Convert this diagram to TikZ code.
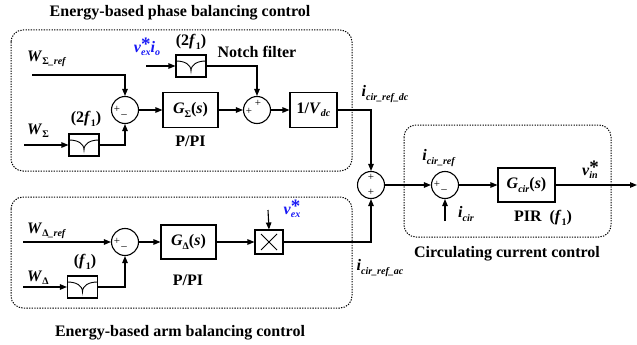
\documentclass[tikz,border=0pt]{standalone}
\usepackage{fontspec}
\setmainfont{Liberation Serif}
\usetikzlibrary{arrows.meta,calc}
\definecolor{vblue}{RGB}{25,25,245}
\newcommand{\ssub}[1]{\raisebox{-0.45ex}{\fontsize{10}{10}\selectfont #1}}
\newcommand{\supsub}[2]{\makebox[0pt][l]{\raisebox{0.25ex}{\fontsize{19}{19}\selectfont #1}}\raisebox{-0.45ex}{\fontsize{10}{10}\selectfont #2}}
\newcommand{\fsz}{\fontsize{16}{18}\selectfont}
\begin{document}
\begin{tikzpicture}[x=1pt,y=-1pt,
  every node/.style={font=\fsz\bfseries, inner sep=0pt},
  blk/.style={draw, line width=1.1pt},
  sumc/.style={draw, circle, line width=1.1pt, minimum size=27pt, inner sep=0pt},
  sgn/.style={font=\fontsize{11}{11}\selectfont\mdseries},
  arr/.style={-{Triangle[length=7pt,width=5.5pt]}, line width=1.1pt},
  grp/.style={line width=1pt, dash pattern=on 1.3pt off 1.3pt, rounded corners=12pt},
  notch/.style={draw, line width=1.1pt, minimum width=30pt, minimum height=22pt,
    path picture={\draw[line width=0.9pt]
      ($(path picture bounding box.center)+(-15pt,5pt)$) .. controls +(8pt,0pt) and +(0pt,7pt) ..
      ($(path picture bounding box.center)+(0pt,-5pt)$) .. controls +(0pt,7pt) and +(-8pt,0pt) ..
      ($(path picture bounding box.center)+(15pt,5pt)$);}},
  mult/.style={draw, line width=1.1pt, minimum width=28pt, minimum height=24pt,
    path picture={\draw[line width=1pt]
      ($(path picture bounding box.center)+(-8pt,-8pt)$) -- ($(path picture bounding box.center)+(8pt,8pt)$)
      ($(path picture bounding box.center)+(-8pt,8pt)$) -- ($(path picture bounding box.center)+(8pt,-8pt)$);}}
]
\useasboundingbox (0,0) rectangle (637,345);

% group frames
\draw[grp] (11,30) rectangle (352,171);
\draw[grp] (11,197) rectangle (352,308);
\draw[grp] (404,125) rectangle (611,237);

% titles
\node (t1) at (180,13) {Energy-based phase balancing control};
\node (t2) at (180,333) {Energy-based arm balancing control};
\node (t3) at (507,254) {Circulating current control};

% top row
\node[sumc] (s1) at (125,110) {};
\node[sgn] (s1a) at ([shift={(-8pt,1pt)}]s1.center) {+};
\node[sgn] (s1b) at ([shift={(-1pt,-6pt)}]s1.center) {–};
\node[blk, minimum width=55pt, minimum height=35pt] (gs) at (190.5,110) {\textit{G}\ssub{Σ}(\textit{s})};
\node (pp1) at (190.5,141) {P/PI};
\node[sumc] (s2) at (257,110) {};
\node[sgn] (s2a) at ([shift={(-8pt,-1pt)}]s2.center) {+};
\node[sgn] (s2b) at ([shift={(1pt,7pt)}]s2.center) {+};
\node[blk, minimum width=47pt, minimum height=35pt] (vdc) at (313.5,110) {1/\textit{V}\ssub{\textit{dc}}};
\node[notch] (n1) at (84,145) {};
\node (n1l) at (86,119) {(2\textit{f}\ssub{1})};
\node[notch] (n2) at (191,66) {};
\node (n2l) at (191,42) {(2\textit{f}\ssub{1})};
\node (nf) at (257,52) {Notch filter};
\node[anchor=west] (wsr) at (27,59) {\textit{W}\ssub{Σ\textit{\_ref}}};
\node[anchor=west] (ws) at (27,131) {\textit{W}\ssub{Σ}};
\node[text=vblue] (vio) at (147,47) {\textit{v}\supsub{*}{\textit{ex}}\textit{i}\ssub{\textit{o}}};
\coordinate (wsr0) at (32,75);
\coordinate (ws0) at (24,145);
\coordinate (vio0) at (146,66);

% bottom row
\node[sumc] (s4) at (125,242) {};
\node[sgn] (s4a) at ([shift={(-8pt,1pt)}]s4.center) {+};
\node[sgn] (s4b) at ([shift={(-1pt,-6pt)}]s4.center) {–};
\node[blk, minimum width=55pt, minimum height=34pt] (gd) at (188.5,242) {\textit{G}\ssub{Δ}(\textit{s})};
\node (pp2) at (188,280) {P/PI};
\node[mult] (mx) at (269,242) {};
\node[text=vblue] (vex) at (292,209) {\textit{v}\supsub{*}{\textit{ex}}};
\coordinate (vex0) at (268,210);
\node[notch] (n3) at (82.5,287) {};
\node (n3l) at (85,262) {(\textit{f}\ssub{1})};
\node[anchor=west] (wdr) at (27,231) {\textit{W}\ssub{Δ\textit{\_ref}}};
\node[anchor=west] (wd) at (27,278) {\textit{W}\ssub{Δ}};
\coordinate (wdr0) at (23,242);
\coordinate (wd0) at (23,287);

% right part
\node[sumc] (s3) at (371,185) {};
\node[sgn] (s3a) at ([shift={(0pt,8pt)}]s3.center) {+};
\node[sgn] (s3b) at ([shift={(0pt,-7pt)}]s3.center) {+};
\node[sumc] (s5) at (445,185) {};
\node[sgn] (s5a) at ([shift={(-8pt,1pt)}]s5.center) {+};
\node[sgn] (s5b) at ([shift={(-1pt,-6pt)}]s5.center) {–};
\node[blk, minimum width=57pt, minimum height=34pt] (gc) at (526.5,185) {\textit{G}\ssub{\textit{cir}}(\textit{s})};
\node (pir) at (543,218) {PIR\ \ (\textit{f}\ssub{1})};
\node (vin) at (590,170) {\textit{v}\supsub{*}{\textit{in}}};
\coordinate (out) at (637,185);
\node (icr) at (439,158) {\textit{i}\ssub{\textit{cir\_ref}}};
\node (ic) at (466,214) {\textit{i}\ssub{\textit{cir}}};
\coordinate (ic0) at (445,221);
\node (irdc) at (385,94) {\textit{i}\ssub{\textit{cir\_ref\_dc}}};
\node (irac) at (380,268) {\textit{i}\ssub{\textit{cir\_ref\_ac}}};

% connectors
\draw[arr] (wsr0) -| (s1.north);
\draw[arr] (ws0) -- (n1.west);
\draw[arr] (n1.east) -| (s1.south);
\draw[arr] (s1) -- (gs);
\draw[arr] (gs) -- (s2);
\draw[arr] (vio0) -- (n2.west);
\draw[arr] (n2.east) -| (s2.north);
\draw[arr] (s2) -- (vdc);
\draw[arr] (vdc.east) -| (s3.north);
\draw[arr] (mx.east) -| (s3.south);
\draw[arr] (s3) -- (s5);
\draw[arr] (ic0) -- (s5.south);
\draw[arr] (s5) -- (gc);
\draw[arr] (gc) -- (out);
\draw[arr] (wdr0) -- (s4.west);
\draw[arr] (wd0) -- (n3.west);
\draw[arr] (n3.east) -| (s4.south);
\draw[arr] (s4) -- (gd);
\draw[arr] (gd) -- (mx);
\draw[arr] (vex0) -- (mx.north);
\end{tikzpicture}
\end{document}
